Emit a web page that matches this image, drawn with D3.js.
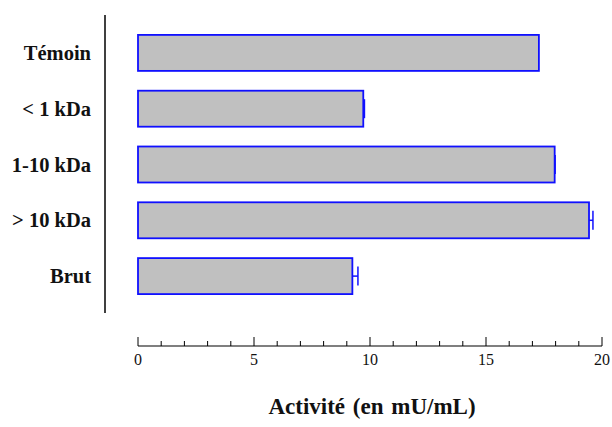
<!DOCTYPE html>
<html lang="fr">
<head>
<meta charset="UTF-8">
<title>Activité (en mU/mL)</title>
<script src="https://d3js.org/d3.v7.min.js"></script>
<style>
  body { margin: 0; background: white; }
  svg { display: block; }
  svg text { font-family: "Liberation Serif"; }
</style>
</head>
<body>
<svg id="chart"></svg>
<script>
// données
const categories = ["Témoin", "< 1 kDa", "1-10 kDa", "> 10 kDa", "Brut"];
const values = [17.28, 9.71, 17.96, 19.44, 9.24];
const errors = [0, 0.05, 0.02, 0.17, 0.24];
const tickValues = [0, 5, 10, 15, 20];
const axisTitle = "Activité (en mU/mL)";

const width = 612, height = 427;
const svg = d3.select("#chart").attr("width", width).attr("height", height);

const x = d3.scaleLinear().domain([0, 20]).range([138, 602]);
const y = d3.scaleBand().domain(categories).range([25, 304])
    .paddingInner(0.355).paddingOuter(0.1775);

const blue = "#1010ff";

// axe vertical (ligne seule)
svg.append("line")
    .attr("x1", 105).attr("x2", 105).attr("y1", 15).attr("y2", 313)
    .attr("stroke", "#000").attr("stroke-width", 1.5);

// étiquettes des catégories
svg.selectAll("text.cat").data(categories).join("text")
    .attr("class", "cat")
    .attr("x", 91)
    .attr("y", d => y(d) + y.bandwidth() / 2)
    .attr("dy", "0.35em")
    .attr("text-anchor", "end")
    .attr("font-weight", "bold")
    .attr("font-size", 20.5)
    .attr("fill", "#111")
    .text(d => d);

// barres
const bars = categories.map((c, i) => ({ c, v: values[i], e: errors[i] }));
svg.selectAll("rect.bar").data(bars).join("rect")
    .attr("class", "bar")
    .attr("x", x(0))
    .attr("y", d => y(d.c))
    .attr("width", d => x(d.v) - x(0))
    .attr("height", y.bandwidth())
    .attr("fill", "#c0c0c0")
    .attr("stroke", blue)
    .attr("stroke-width", 1.8);

// barres d'erreur
const eb = svg.selectAll("g.err").data(bars.filter(d => d.e > 0)).join("g").attr("class", "err");
eb.append("line")
    .attr("x1", d => x(d.v)).attr("x2", d => x(d.v + d.e))
    .attr("y1", d => y(d.c) + y.bandwidth() / 2)
    .attr("y2", d => y(d.c) + y.bandwidth() / 2)
    .attr("stroke", blue).attr("stroke-width", 1.5);
eb.append("line")
    .attr("x1", d => x(d.v + d.e)).attr("x2", d => x(d.v + d.e))
    .attr("y1", d => y(d.c) + y.bandwidth() / 2 - 9.5)
    .attr("y2", d => y(d.c) + y.bandwidth() / 2 + 9.5)
    .attr("stroke", blue).attr("stroke-width", 1.5);

// axe horizontal
const axisY = 346;
const gx = svg.append("g").attr("transform", `translate(0,${axisY})`);
gx.append("line").attr("x1", x(0)).attr("x2", x(20))
    .attr("stroke", "#000").attr("stroke-width", 1.2);
gx.selectAll("line.minor").data(d3.range(0, 21)).join("line")
    .attr("class", "minor")
    .attr("x1", d => x(d)).attr("x2", d => x(d))
    .attr("y1", 0).attr("y2", d => d % 5 === 0 ? -9 : -5)
    .attr("stroke", "#000").attr("stroke-width", 1);
gx.selectAll("text").data(tickValues).join("text")
    .attr("x", d => x(d))
    .attr("y", 19)
    .attr("text-anchor", "middle")
    .attr("font-size", 16)
    .attr("fill", "#111")
    .text(d => d);

// titre de l'axe
svg.append("text")
    .attr("x", 372).attr("y", 414)
    .attr("text-anchor", "middle")
    .attr("font-weight", "bold")
    .attr("font-size", 23)
    .attr("word-spacing", 2)
    .attr("fill", "#111")
    .text(axisTitle);
</script>
</body>
</html>
